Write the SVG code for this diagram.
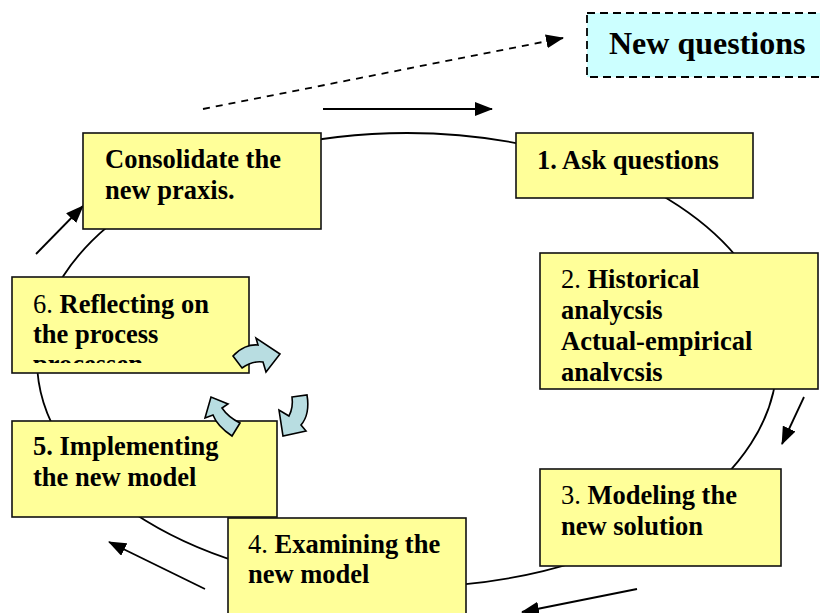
<svg xmlns="http://www.w3.org/2000/svg" width="820" height="613" viewBox="0 0 820 613">
<style>
.box{fill:#ffff99;stroke:#111;stroke-width:1.6}
.t{font-family:"Liberation Serif","Times New Roman",serif;font-size:26.5px;font-weight:bold;fill:#000}
.n{font-weight:normal}
.ln{stroke:#000;stroke-width:1.8;fill:none}
.blk{fill:#b8dde1;stroke:#000;stroke-width:1.6;stroke-linejoin:miter}
</style>
<defs>
<marker id="ahb" markerWidth="18" markerHeight="14" refX="17" refY="7" orient="auto" markerUnits="userSpaceOnUse" viewBox="0 0 18 14">
<path d="M0,0 L18,7 L0,14 Z" fill="#000"/>
</marker>
<clipPath id="c2"><rect x="540" y="253" width="278" height="128"/></clipPath>
<clipPath id="c6"><rect x="12" y="277" width="237" height="86"/></clipPath>
</defs>
<g id="connectors">
<ellipse class="ln" cx="407" cy="360" rx="370" ry="227"/>
<line class="ln" x1="203" y1="109" x2="563" y2="38" stroke-dasharray="7,6" marker-end="url(#ahb)"/>
<line class="ln" x1="323" y1="109" x2="492" y2="109" marker-end="url(#ahb)"/>
<line class="ln" x1="36" y1="254" x2="83" y2="206" marker-end="url(#ahb)"/>
<line class="ln" x1="804" y1="397" x2="782" y2="444" marker-end="url(#ahb)"/>
<line class="ln" x1="637" y1="589" x2="522" y2="612" marker-end="url(#ahb)"/>
<line class="ln" x1="205" y1="589" x2="109" y2="542" marker-end="url(#ahb)"/>
</g>
<g id="node-new-questions">
<rect x="587" y="13" width="240" height="64" fill="#ccffff" stroke="#000" stroke-width="1.8" stroke-dasharray="8,5"/>
<text class="t" x="609" y="54" style="font-size:32px">New questions</text>
</g>
<g id="node-consolidate">
<rect class="box" x="83" y="133" width="238" height="96"/>
<text class="t" x="105" y="168">Consolidate the</text>
<text class="t" x="105" y="199">new praxis.</text>
</g>
<g id="node-1">
<rect class="box" x="516" y="133" width="237" height="65"/>
<text class="t" x="537" y="169">1. Ask questions</text>
</g>
<g id="node-2">
<rect class="box" x="540" y="253" width="278" height="136"/>
<g clip-path="url(#c2)">
<text class="t" x="561" y="288"><tspan class="n">2. </tspan>Historical</text>
<text class="t" x="561" y="319">analycsis</text>
<text class="t" x="561" y="350">Actual-empirical</text>
<text class="t" x="561" y="381">analycsis</text>
</g>
</g>
<g id="node-3">
<rect class="box" x="540" y="469" width="241" height="97"/>
<text class="t" x="561" y="504"><tspan class="n">3. </tspan>Modeling the</text>
<text class="t" x="561" y="535">new solution</text>
</g>
<g id="node-4">
<rect class="box" x="228" y="518" width="238" height="100"/>
<text class="t" x="248" y="553"><tspan class="n">4. </tspan>Examining the</text>
<text class="t" x="248" y="583">new model</text>
</g>
<g id="node-5">
<rect class="box" x="12" y="421" width="265" height="96"/>
<text class="t" x="33" y="455">5. Implementing</text>
<text class="t" x="33" y="486">the new model</text>
</g>
<g id="node-6">
<rect class="box" x="12" y="277" width="237" height="96"/>
<g clip-path="url(#c6)">
<text class="t" x="33" y="313"><tspan class="n">6. </tspan>Reflecting on</text>
<text class="t" x="33" y="343">the process</text>
<text class="t" x="33" y="373">processen</text>
</g>
</g>
<g id="cycle-arrows">
<path class="blk" d="M233,356 C240,348 250,344 258,345 L256,338 L280,354 L266,372 L263,362 C256,361 249,363 242,368 Z"/>
<path class="blk" d="M292,397 L307,395 C309,407 307,418 301,425 L306,431 L283,436 L279,410 L289,416 C292,410 293,404 292,397 Z"/>
<path class="blk" d="M240,423 L232,436 C223,430 216,423 213,415 L205,418 L211,397 L228,404 L222,408 C226,414 232,419 240,423 Z"/>
</g>
</svg>
